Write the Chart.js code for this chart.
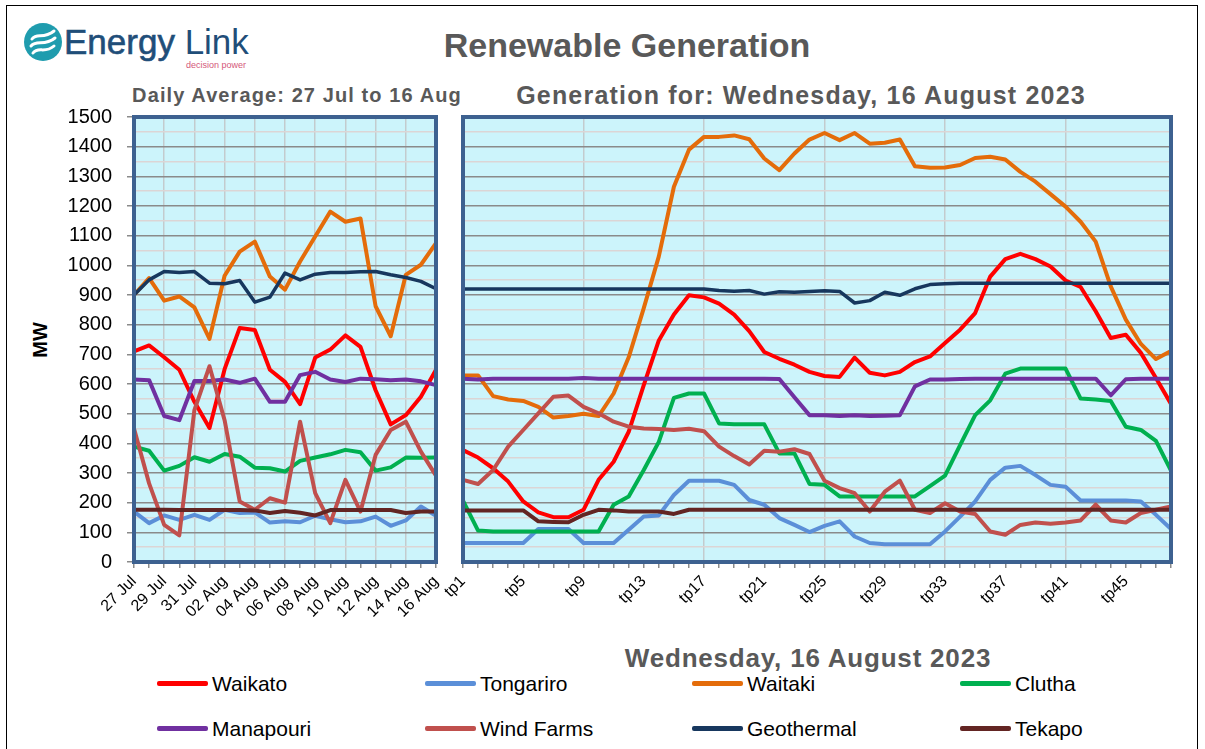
<!DOCTYPE html>
<html>
<head>
<meta charset="utf-8">
<title>Renewable Generation</title>
<script src="https://cdn.jsdelivr.net/npm/chart.js@4"></script>
<style>
  body { margin: 0; background: #fff; }
  #page { position: relative; width: 1205px; height: 749px; overflow: hidden; font-family: 'Liberation Sans', Arial, sans-serif; }
  #border { position: absolute; left: 6px; top: 5px; width: 1190px; height: 780px; border: 1px solid #000; }
  .txt { position: absolute; white-space: nowrap; line-height: 1; }
  .ctr { transform: translate(-50%, -50%); }
  .grey { color: #595959; font-weight: bold; }
  canvas { position: absolute; }
  .leg { position: absolute; height: 24px; }
  .leg span.ln { position: absolute; left: 0; top: 9px; width: 51px; height: 5px; border-radius: 2px; }
  .leg span.lb { position: absolute; left: 55px; top: 0; font-size: 21px; line-height: 24px; color: #000; white-space: nowrap; }
</style>
</head>
<body>
<div id="page">
  <div id="border"></div>

  <!-- logo -->
  <svg style="position:absolute;left:23px;top:22px" width="40" height="40" viewBox="0 0 40 40">
    <circle cx="20" cy="20" r="19" fill="#1f9cae"/>
    <path d="M9 17 C14 10, 20 18, 31 9" stroke="#fff" stroke-width="3" fill="none" stroke-linecap="round"/>
    <path d="M8 24 C14 17, 21 25, 32 16" stroke="#fff" stroke-width="3" fill="none" stroke-linecap="round"/>
    <path d="M10 31 C15 24, 22 32, 31 24" stroke="#fff" stroke-width="3" fill="none" stroke-linecap="round"/>
  </svg>
  <div class="txt" style="left:64px;top:24px;font-size:35px;color:#1f4e79;"><span style="-webkit-text-stroke:0.6px #1f4e79;">Energy</span> Link</div>
  <div class="txt" style="left:186px;top:61px;font-size:9px;color:#d4587a;">decision power</div>

  <div class="txt ctr grey" style="left:627px;top:45px;font-size:34px;">Renewable Generation</div>
  <div class="txt ctr grey" style="left:297px;top:95px;font-size:20px;letter-spacing:1.1px;">Daily Average: 27 Jul to 16 Aug</div>
  <div class="txt ctr grey" style="left:801px;top:95px;font-size:25px;letter-spacing:1.2px;">Generation for: Wednesday, 16 August 2023</div>
  <div class="txt ctr grey" style="left:808px;top:658px;font-size:26px;letter-spacing:0.8px;">Wednesday, 16 August 2023</div>
  <div class="txt ctr" style="left:40px;top:340px;font-size:20px;font-weight:bold;transform:translate(-50%,-50%) rotate(-90deg);">MW</div>

  <canvas id="daily" width="450" height="560" style="left:0px;top:100px;width:450px;height:560px;"></canvas>
  <canvas id="periods" width="775" height="560" style="left:430px;top:100px;width:775px;height:560px;"></canvas>

  <div id="legend"></div>
</div>

<script>
// series names and colours (legend order)
const seriesNames = ['Waikato', 'Tongariro', 'Waitaki', 'Clutha', 'Manapouri', 'Wind Farms', 'Geothermal', 'Tekapo'];
const seriesColors = ['#ff0000', '#5b8fd8', '#e46c0a', '#00b050', '#7030a0', '#c0504d', '#17375e', '#632523'];

// daily averages, 27 Jul to 16 Aug
const days = ['27 Jul', '28 Jul', '29 Jul', '30 Jul', '31 Jul', '01 Aug', '02 Aug', '03 Aug', '04 Aug', '05 Aug', '06 Aug',
              '07 Aug', '08 Aug', '09 Aug', '10 Aug', '11 Aug', '12 Aug', '13 Aug', '14 Aug', '15 Aug', '16 Aug'];
const waikatoDaily   = [710, 730, 690, 648, 540, 452, 650, 789, 782, 648, 607, 532, 689, 716, 764, 725, 579, 464, 495, 557, 648];
const tongariroDaily = [170, 131, 157, 142, 159, 142, 176, 165, 167, 133, 137, 134, 156, 144, 134, 137, 153, 122, 140, 187, 156];
const waitakiDaily   = [900, 957, 881, 895, 858, 752, 965, 1046, 1080, 962, 918, 1013, 1097, 1181, 1147, 1158, 862, 761, 968, 1002, 1075];
const cluthaDaily    = [389, 375, 308, 324, 353, 338, 364, 355, 318, 316, 305, 341, 352, 363, 378, 370, 308, 319, 352, 351, 352];
const manapouriDaily = [615, 613, 492, 478, 610, 610, 615, 604, 618, 540, 540, 630, 641, 615, 607, 618, 616, 613, 615, 609, 596];
const windDaily      = [450, 265, 125, 90, 512, 660, 478, 204, 176, 215, 200, 473, 232, 131, 277, 170, 361, 445, 473, 372, 291];
const geoDaily       = [900, 951, 979, 976, 979, 940, 938, 949, 876, 893, 974, 951, 970, 976, 976, 978, 979, 968, 959, 946, 921];
const tekapoDaily    = [176, 176, 176, 175, 175, 175, 175, 175, 174, 165, 172, 166, 157, 175, 175, 175, 175, 175, 165, 170, 170];

// trading periods for 16 Aug
const periods = [];
for (let i = 1; i <= 48; i++) periods.push('tp' + i);
const waikatoTP   = [377, 352, 316, 271, 204, 167, 151, 151, 176, 277, 338, 439, 596, 747, 834, 899, 892, 871, 834, 778, 708, 685,
                     665, 641, 627, 624, 689, 638, 629, 641, 674, 693, 738, 783, 839, 962, 1021, 1039, 1021, 996, 949, 927, 845, 755,
                     766, 705, 620, 533];
const tongariroTP = [64, 64, 64, 64, 64, 111, 111, 111, 64, 64, 64, 109, 153, 157, 226, 274, 274, 274, 260, 209, 193, 148, 125, 101,
                     122, 137, 86, 64, 60, 60, 60, 60, 103, 153, 204, 277, 318, 324, 293, 260, 254, 207, 207, 207, 207, 204, 159, 111];
const waitakiTP   = [629, 629, 559, 548, 543, 523, 487, 492, 500, 492, 568, 690, 856, 1030, 1265, 1390, 1433, 1433, 1438, 1425, 1360,
                     1321, 1377, 1424, 1446, 1422, 1446, 1410, 1413, 1424, 1334, 1329, 1330, 1338, 1362, 1366, 1357, 1315, 1282, 1240,
                     1198, 1147, 1080, 929, 817, 735, 684, 711];
const cluthaTP    = [207, 106, 103, 103, 103, 103, 103, 103, 103, 103, 193, 221, 310, 405, 553, 568, 568, 467, 464, 464, 464, 366,
                     366, 263, 260, 221, 221, 221, 221, 221, 221, 256, 291, 394, 495, 545, 635, 652, 652, 652, 652, 551, 548, 543,
                     456, 445, 408, 308];
const manapouriTP = [618, 615, 618, 618, 618, 618, 618, 618, 620, 618, 618, 618, 618, 618, 618, 618, 618, 618, 618, 618, 618, 617,
                     555, 495, 495, 492, 495, 492, 493, 495, 592, 615, 615, 617, 618, 618, 618, 618, 618, 618, 618, 618, 618, 562,
                     616, 618, 618, 618];
const windTP      = [277, 263, 310, 389, 445, 501, 557, 561, 523, 501, 473, 456, 450, 448, 445, 449, 441, 389, 357, 329, 375, 372,
                     380, 364, 274, 249, 232, 170, 237, 274, 176, 165, 198, 170, 162, 103, 92, 125, 133, 129, 133, 140, 193, 140,
                     133, 165, 176, 187];
const geoTP       = [920, 920, 920, 920, 920, 920, 920, 920, 920, 920, 920, 920, 920, 920, 920, 920, 920, 915, 913, 915, 903, 911,
                     909, 912, 914, 912, 873, 881, 909, 899, 921, 935, 938, 940, 940, 940, 940, 940, 940, 940, 940, 940, 940, 940,
                     940, 940, 940, 940];
const tekapoTP    = [174, 174, 174, 174, 174, 137, 135, 134, 159, 176, 174, 170, 170, 170, 162, 176, 176, 176, 176, 176, 176, 176,
                     176, 176, 176, 176, 176, 176, 176, 176, 176, 176, 176, 176, 176, 176, 176, 176, 176, 176, 176, 176, 176, 176,
                     176, 176, 176, 176];

const dailySeries = [waikatoDaily, tongariroDaily, waitakiDaily, cluthaDaily, manapouriDaily, windDaily, geoDaily, tekapoDaily];
const tpSeries = [waikatoTP, tongariroTP, waitakiTP, cluthaTP, manapouriTP, windTP, geoTP, tekapoTP];

const yTicks = { min: 0, max: 1500, step: 50, labelStep: 100 };

Chart.defaults.font.family = "'Liberation Sans', Arial, sans-serif";
Chart.defaults.color = '#000';

// plot background + thick blue frame
const framePlugin = {
  id: 'frame',
  beforeDraw(chart) {
    const a = chart.chartArea, c = chart.ctx;
    c.save();
    c.fillStyle = '#ccf4fb';
    c.fillRect(a.left, a.top, a.right - a.left, a.bottom - a.top);
    c.restore();
  },
  afterDraw(chart) {
    const a = chart.chartArea, c = chart.ctx;
    c.save();
    c.strokeStyle = '#3d6190';
    c.lineWidth = 4;
    c.strokeRect(a.left, a.top, a.right - a.left, a.bottom - a.top);
    c.restore();
  }
};

// keep the plot box exactly where the padding puts it
function noScalePadding(s) {
  s.paddingTop = 0;
  s.paddingBottom = 0;
  s.paddingLeft = 0;
  s.paddingRight = 0;
}

function makeDatasets(list) {
  return list.map((d, i) => ({
    label: seriesNames[i],
    data: d,
    borderColor: seriesColors[i],
    backgroundColor: seriesColors[i],
    borderWidth: i === 6 ? 3.5 : 4,
    order: list.length - i
  }));
}

function yScale(showLabels, width) {
  return {
    min: yTicks.min,
    max: yTicks.max,
    border: { display: false },
    ticks: {
      display: showLabels,
      stepSize: yTicks.step,
      autoSkip: false,
      padding: 15,
      font: { size: 20 },
      callback: v => (v % yTicks.labelStep === 0 ? v : '')
    },
    grid: {
      color: c => (c.tick.value % yTicks.labelStep === 0 ? '#8a8a8a' : '#dcd5d5'),
      lineWidth: 1.5,
      drawTicks: showLabels,
      tickLength: 7,
      tickColor: c => (c.tick.value % yTicks.labelStep === 0 ? '#8a8a8a' : 'rgba(0,0,0,0)')
    },
    afterFit: s => { s.width = width; noScalePadding(s); }
  };
}

function xScale(labels, labelEvery, gridEvery) {
  return {
    offset: false,
    border: { display: false },
    ticks: {
      autoSkip: false,
      minRotation: 45,
      maxRotation: 45,
      padding: 4,
      font: { size: 16 },
      callback: (v, i) => (i % labelEvery === 0 ? labels[i] : '')
    },
    grid: {
      color: c => (c.index % gridEvery === 0 ? '#c3cbce' : 'rgba(0,0,0,0)'),
      lineWidth: 1.5,
      drawTicks: true,
      tickLength: 6,
      tickColor: '#8a8a8a'
    },
    afterFit: s => { s.height = 98; noScalePadding(s); }
  };
}

function baseOptions(padRight, xs, ys) {
  return {
    responsive: false,
    animation: false,
    layout: { padding: { top: 17, right: padRight, left: 0, bottom: 0 } },
    elements: {
      point: { radius: 0 },
      line: { tension: 0, borderJoinStyle: 'round', borderCapStyle: 'round' }
    },
    plugins: { legend: { display: false }, tooltip: { enabled: false } },
    scales: { x: xs, y: ys }
  };
}

new Chart(document.getElementById('daily'), {
  type: 'line',
  data: { labels: days, datasets: makeDatasets(dailySeries) },
  options: baseOptions(14, xScale(days, 2, 2), yScale(true, 134)),
  plugins: [framePlugin]
});

new Chart(document.getElementById('periods'), {
  type: 'line',
  data: { labels: periods, datasets: makeDatasets(tpSeries) },
  options: baseOptions(34, xScale(periods, 4, 8), yScale(false, 33)),
  plugins: [framePlugin]
});

// legend: 2 rows x 4 columns
const legCols = [157, 425, 692, 960];
const legRows = [672, 717];
const legend = document.getElementById('legend');
seriesNames.forEach((name, i) => {
  const item = document.createElement('div');
  item.className = 'leg';
  item.style.left = legCols[i % 4] + 'px';
  item.style.top = legRows[Math.floor(i / 4)] + 'px';
  item.innerHTML = '<span class="ln" style="background:' + seriesColors[i] + '"></span><span class="lb">' + name + '</span>';
  legend.appendChild(item);
});
</script>
</body>
</html>
